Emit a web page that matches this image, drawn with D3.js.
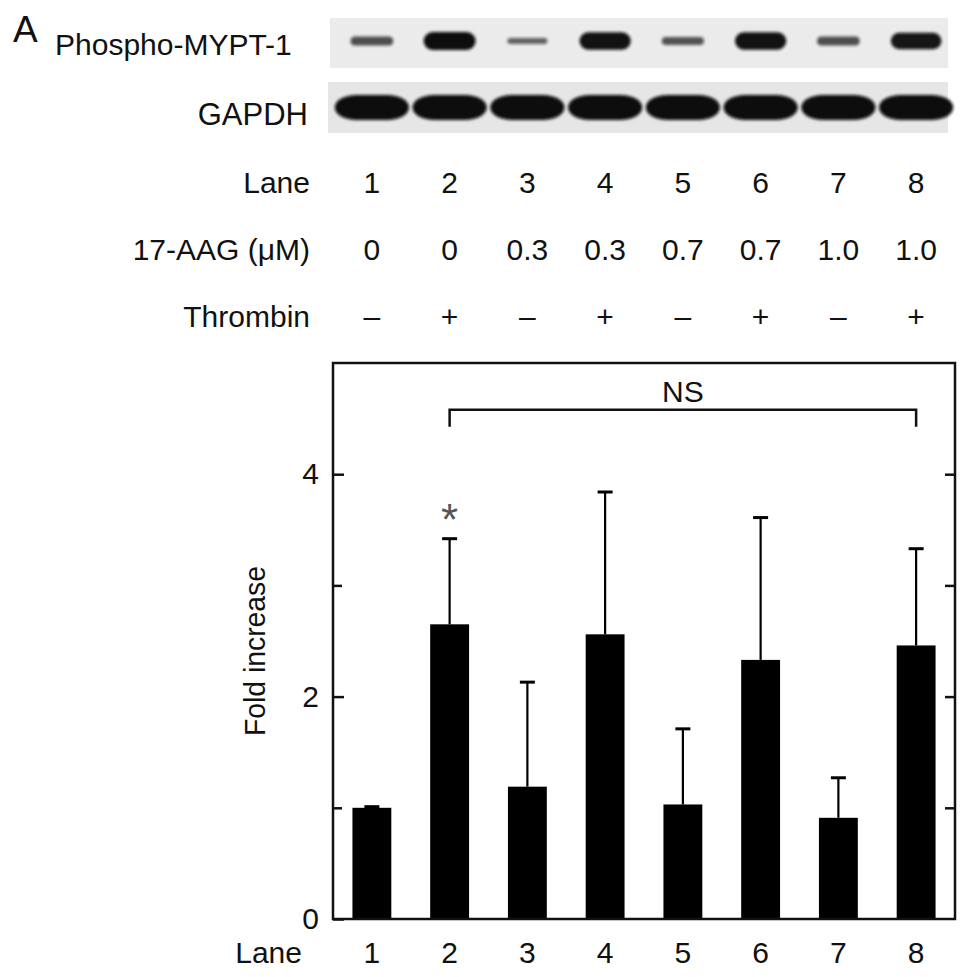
<!DOCTYPE html>
<html>
<head>
<meta charset="utf-8">
<script src="https://cdn.jsdelivr.net/npm/d3@7"></script>
<style>
  body { margin: 0; background: #fff; }
  text { font-family: 'Liberation Sans', Arial, Helvetica, sans-serif; fill: #111; }
</style>
</head>
<body>
<div class="container"></div>
<script>
const width = 969;
const height = 977;

// dados
const lanes = ['1', '2', '3', '4', '5', '6', '7', '8'];
const aag = ['0', '0', '0.3', '0.3', '0.7', '0.7', '1.0', '1.0'];
const thrombin = ['–', '+', '–', '+', '–', '+', '–', '+'];
const foldMean = [1.0, 2.65, 1.19, 2.56, 1.03, 2.33, 0.91, 2.46];
const foldErr = [0.01, 0.77, 0.94, 1.28, 0.68, 1.28, 0.36, 0.87];
const phosphoDensity = [0.35, 1.0, 0.15, 0.95, 0.3, 0.95, 0.35, 0.9];
const gapdhDensity = [1, 1, 1, 1, 1, 1, 1, 1];
const yTicks = [0, 2, 4];
const yMinor = [1, 3];
const significant = ['2'];
const nsPair = ['2', '8'];
const nsLevel = 4.58;

const svg = d3.select('.container')
  .append('svg')
  .attr('width', width)
  .attr('height', height);

const defs = svg.append('defs');
defs.append('filter')
  .attr('id', 'borrao')
  .attr('x', '-20%').attr('y', '-50%').attr('width', '140%').attr('height', '200%')
  .append('feGaussianBlur')
  .attr('stdDeviation', 1.6);

// escalas
const x = d3.scaleBand()
  .domain(lanes)
  .range([333, 955])
  .paddingInner(0.5)
  .paddingOuter(0.25);

const y = d3.scaleLinear()
  .domain([0, 5])
  .range([919, 363]);

const cx = d => x(d) + x.bandwidth() / 2;

// western blot
const blot = svg.append('g').attr('class', 'blot');

blot.append('text')
  .attr('x', 13).attr('y', 42)
  .attr('font-size', 37)
  .text('A');

blot.append('text')
  .attr('x', 55).attr('y', 55)
  .attr('font-size', 30)
  .text('Phospho-MYPT-1');

blot.append('text')
  .attr('x', 308).attr('y', 125)
  .attr('text-anchor', 'end')
  .attr('font-size', 31)
  .text('GAPDH');

blot.append('rect')
  .attr('x', 330).attr('y', 18)
  .attr('width', 618).attr('height', 50)
  .attr('fill', '#ebebeb');

blot.append('rect')
  .attr('x', 328).attr('y', 82)
  .attr('width', 620).attr('height', 51)
  .attr('fill', '#e6e6e6');

const bw = d3.scaleLinear().domain([0, 1]).range([38, 52]);
const bh = d3.scaleLinear().domain([0, 1]).range([4, 18]);
const bo = d3.scaleLinear().domain([0, 1]).range([0.55, 1]);

blot.append('g')
  .selectAll('rect')
  .data(lanes)
  .join('rect')
  .attr('x', (d, i) => cx(d) - bw(phosphoDensity[i]) / 2)
  .attr('y', (d, i) => 41 - bh(phosphoDensity[i]) / 2)
  .attr('width', (d, i) => bw(phosphoDensity[i]))
  .attr('height', (d, i) => bh(phosphoDensity[i]))
  .attr('rx', (d, i) => bh(phosphoDensity[i]) / 2)
  .attr('fill', '#111')
  .attr('opacity', (d, i) => bo(phosphoDensity[i]))
  .attr('filter', 'url(#borrao)');

blot.append('g')
  .selectAll('rect')
  .data(lanes)
  .join('rect')
  .attr('x', d => cx(d) - 37)
  .attr('y', 95)
  .attr('width', 74)
  .attr('height', (d, i) => 25 * gapdhDensity[i])
  .attr('rx', 22).attr('ry', 12)
  .attr('fill', '#0a0a0a')
  .attr('filter', 'url(#borrao)');

// tabela de condicoes
const tabela = svg.append('g').attr('class', 'tabela');
const linhas = [
  { rotulo: 'Lane', valores: lanes, y: 193 },
  { rotulo: '17-AAG (μM)', valores: aag, y: 260 },
  { rotulo: 'Thrombin', valores: thrombin, y: 327 }
];

linhas.forEach(l => {
  tabela.append('text')
    .attr('x', 310).attr('y', l.y)
    .attr('text-anchor', 'end')
    .attr('font-size', 30)
    .text(l.rotulo);

  tabela.append('g')
    .selectAll('text')
    .data(l.valores)
    .join('text')
    .attr('x', (d, i) => cx(lanes[i]))
    .attr('y', l.y)
    .attr('text-anchor', 'middle')
    .attr('font-size', 30)
    .text(d => d);
});

// grafico de barras
const g = svg.append('g').attr('class', 'grafico');

g.append('g')
  .selectAll('rect')
  .data(lanes)
  .join('rect')
  .attr('x', d => x(d))
  .attr('y', (d, i) => y(foldMean[i]))
  .attr('width', x.bandwidth())
  .attr('height', (d, i) => y(0) - y(foldMean[i]))
  .attr('fill', '#000');

// barras de erro (so para cima)
const erros = g.append('g').attr('stroke', '#000');
erros.selectAll('line.v')
  .data(lanes)
  .join('line')
  .attr('class', 'v')
  .attr('x1', d => cx(d)).attr('x2', d => cx(d))
  .attr('y1', (d, i) => y(foldMean[i]))
  .attr('y2', (d, i) => y(foldMean[i] + foldErr[i]))
  .attr('stroke-width', 2.2);
erros.selectAll('line.c')
  .data(lanes)
  .join('line')
  .attr('class', 'c')
  .attr('x1', d => cx(d) - 7.5).attr('x2', d => cx(d) + 7.5)
  .attr('y1', (d, i) => y(foldMean[i] + foldErr[i]))
  .attr('y2', (d, i) => y(foldMean[i] + foldErr[i]))
  .attr('stroke-width', 3);

// moldura
g.append('rect')
  .attr('x', 333).attr('y', y(5))
  .attr('width', 955 - 333).attr('height', y(0) - y(5))
  .attr('fill', 'none')
  .attr('stroke', '#111')
  .attr('stroke-width', 2.5);

// eixo y
const eixoY = g.append('g')
  .attr('transform', 'translate(333,0)')
  .call(d3.axisLeft(y).tickValues(yTicks).tickSize(-11).tickPadding(14).tickFormat(d3.format('d')));
eixoY.select('.domain').remove();
eixoY.selectAll('line').attr('stroke', '#111').attr('stroke-width', 2.5);
eixoY.selectAll('text').attr('font-size', 30).attr('font-family', null).attr('fill', '#111');

const menores = g.append('g')
  .attr('transform', 'translate(333,0)')
  .call(d3.axisLeft(y).tickValues(yMinor).tickSize(-9).tickFormat(''));
menores.select('.domain').remove();
menores.selectAll('line').attr('stroke', '#111').attr('stroke-width', 2.5);

const direita = g.append('g')
  .attr('transform', 'translate(955,0)')
  .call(d3.axisRight(y).tickValues([1, 2, 3, 4]).tickSize(-10).tickFormat(''));
direita.select('.domain').remove();
direita.selectAll('line').attr('stroke', '#111').attr('stroke-width', 2.5);

// eixo x
const eixoX = g.append('g')
  .attr('transform', `translate(0,${y(0)})`)
  .call(d3.axisBottom(x).tickSize(0).tickPadding(23));
eixoX.select('.domain').remove();
eixoX.selectAll('text').attr('font-size', 30).attr('font-family', null).attr('fill', '#111');

g.append('text')
  .attr('x', 302).attr('y', 963)
  .attr('text-anchor', 'end')
  .attr('font-size', 30)
  .text('Lane');

g.append('text')
  .attr('transform', 'translate(265,651) rotate(-90)')
  .attr('text-anchor', 'middle')
  .attr('font-size', 30)
  .attr('textLength', 170)
  .attr('lengthAdjust', 'spacingAndGlyphs')
  .text('Fold increase');

// asterisco
g.selectAll('text.sig')
  .data(significant)
  .join('text')
  .attr('class', 'sig')
  .attr('x', d => cx(d))
  .attr('y', d => y(foldMean[lanes.indexOf(d)] + foldErr[lanes.indexOf(d)]) - 4)
  .attr('text-anchor', 'middle')
  .attr('font-size', 44)
  .style('fill', '#555')
  .text('*');

// colchete NS
const x1 = cx(nsPair[0]);
const x2 = cx(nsPair[1]);
g.append('path')
  .attr('d', `M${x1},${y(nsLevel) + 17}V${y(nsLevel)}H${x2}V${y(nsLevel) + 17}`)
  .attr('fill', 'none')
  .attr('stroke', '#111')
  .attr('stroke-width', 2.5);

g.append('text')
  .attr('x', (x1 + x2) / 2)
  .attr('y', y(nsLevel) - 8)
  .attr('text-anchor', 'middle')
  .attr('font-size', 30)
  .text('NS');
</script>
</body>
</html>
